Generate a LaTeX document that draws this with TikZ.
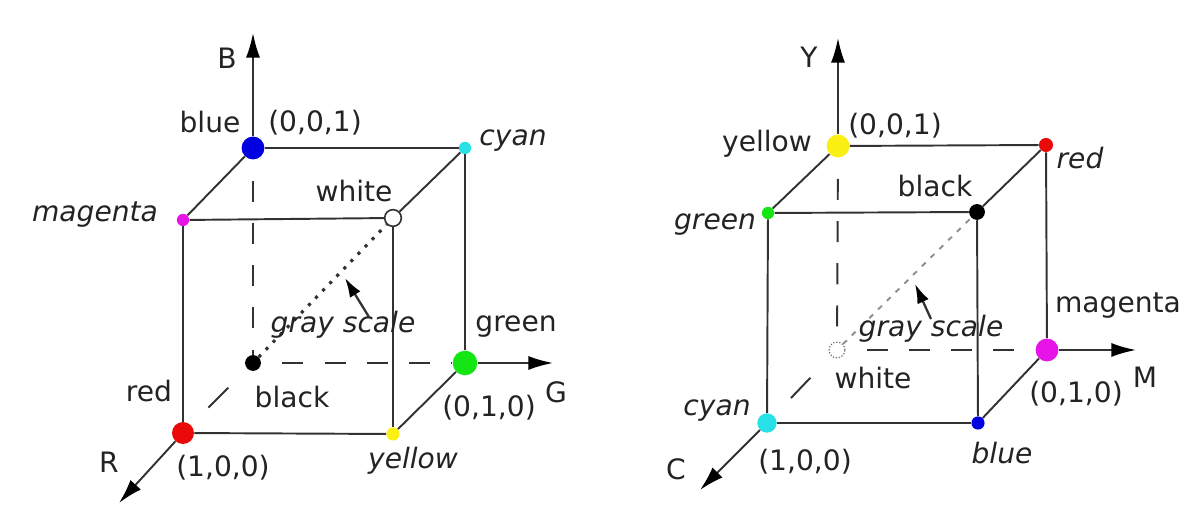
\documentclass[tikz,border=0pt]{standalone}
\usepackage{fontspec}
\setmainfont{DejaVu Sans}
\usepackage{xcolor}
\usetikzlibrary{
  arrows.meta,
  positioning,
  calc
}
\definecolor{edgegray}{RGB}{50,50,50}
\definecolor{txtgray}{RGB}{35,35,35}
\definecolor{cRed}{RGB}{235,10,10}
\definecolor{cGreen}{RGB}{20,230,20}
\definecolor{cBlue}{RGB}{0,0,225}
\definecolor{cYellow}{RGB}{250,240,20}
\definecolor{cCyan}{RGB}{40,225,230}
\definecolor{cMagenta}{RGB}{230,20,230}

\begin{document}
\begin{tikzpicture}[
  x=0.02cm, y=0.02cm,
  dot/.style={circle,inner sep=0pt,minimum size=#1},
  edge/.style={draw=edgegray,line width=1.1pt},
  hidden/.style={edge,dash pattern=on 12pt off 12pt,dash phase=12pt},
  stub/.style={edge,dash pattern=on 0pt off 14pt on 16pt off 60pt},
  grayline/.style={edgegray,line width=1.8pt,dash pattern=on 1.8pt off 4pt},
  axis/.style={edge,-{Latex[length=14pt,width=8pt,color=black]}},
  pointer/.style={edge,line width=1.3pt,-{Latex[length=11pt,width=7pt,color=black]}},
  lbl/.style={font=\fontsize{16}{18}\selectfont,text=txtgray,inner sep=0pt},
  ilbl/.style={lbl,font=\fontsize{16}{18}\selectfont\itshape},
]
\useasboundingbox (0,0) rectangle (1194,520);

% RGB cube
\node[dot=12.5pt,fill=cRed]     (redL)     at (183,87)  {};
\node[dot=7.5pt,fill=cYellow]   (yellowL)  at (393,86)  {};
\node[dot=7pt,fill=cMagenta]    (magentaL) at (183,300) {};
\node[dot=9.5pt,draw=edgegray,fill=white,line width=0.9pt] (whiteL) at (393,302) {};
\node[dot=9pt,fill=black]       (blackL)   at (253,157) {};
\node[dot=14pt,fill=cGreen]     (greenL)   at (465,157) {};
\node[dot=13pt,fill=cBlue]      (blueL)    at (253,372) {};
\node[dot=7pt,fill=cCyan]       (cyanL)    at (465,372) {};
\coordinate (Btip) at (253,487);
\coordinate (Gtip) at (553,157);
\coordinate (Rtip) at (119,17);

\draw[edge] (blueL) -- (cyanL);
\draw[edge] (blueL) -- (magentaL);
\draw[edge] (cyanL) -- (whiteL);
\draw[edge] (magentaL) -- (whiteL);
\draw[edge] (magentaL) -- (redL);
\draw[edge] (whiteL) -- (yellowL);
\draw[edge] (redL) -- (yellowL);
\draw[edge] (yellowL) -- (greenL);
\draw[edge] (cyanL) -- (greenL);
\draw[hidden] (blueL) -- (blackL);
\draw[hidden] (blackL) -- (greenL);
\draw[stub] (redL) -- (blackL);
\draw[grayline] (blackL) -- (whiteL);
\draw[axis] (blueL) -- (Btip);
\draw[axis] (greenL) -- (Gtip);
\draw[axis] (redL) -- (Rtip);

\node[lbl]  (tB)       at (227,462) {B};
\node[lbl]  (tBlueL)   at (210,398) {blue};
\node[lbl]  (tOrigB)   at (315,397) {(0,0,1)};
\node[ilbl] (tCyanL)   at (513,379) {cyan};
\node[lbl]  (tWhiteL)  at (354,329) {white};
\node[ilbl] (tMagL)    at (95,305)  {magenta};
\node[ilbl] (tGrayL)   at (343,195) {gray scale};
\node[lbl]  (tGreenL)  at (516,193) {green};
\node[lbl]  (tRedL)    at (149,129) {red};
\node[lbl]  (tBlackL)  at (292,123) {black};
\node[lbl]  (tOrigG)   at (489,112) {(0,1,0)};
\node[lbl]  (tG)       at (556,128) {G};
\node[lbl]  (tR)       at (109,58)  {R};
\node[lbl]  (tOrigR)   at (223,52)  {(1,0,0)};
\node[ilbl] (tYellowL) at (413,59)  {yellow};
\coordinate (gsTipL) at (345,242);
\draw[pointer] ($(tGrayL.north)+(26,-6)$) -- (gsTipL);

% CMY cube
\node[dot=11pt,fill=cCyan]      (cyanR)    at (767,97)  {};
\node[dot=7.5pt,fill=cBlue]     (blueR)    at (978,97)  {};
\node[dot=7pt,fill=cGreen]      (greenR)   at (768,307) {};
\node[dot=9pt,fill=black]       (blackR)   at (977,308) {};
\node[dot=9pt,draw=edgegray!70,densely dotted,line width=0.7pt] (whiteR) at (837,170) {};
\node[dot=13pt,fill=cMagenta]   (magentaR) at (1047,170) {};
\node[dot=13pt,fill=cYellow]    (yellowR)  at (838,374) {};
\node[dot=8pt,fill=cRed]        (redR)     at (1046,375) {};
\coordinate (Ytip) at (838,482);
\coordinate (Mtip) at (1136,170);
\coordinate (Ctip) at (700,30);

\draw[edge] (yellowR) -- (redR);
\draw[edge] (yellowR) -- (greenR);
\draw[edge] (redR) -- (blackR);
\draw[edge] (greenR) -- (blackR);
\draw[edge] (greenR) -- (cyanR);
\draw[edge] (blackR) -- (blueR);
\draw[edge] (cyanR) -- (blueR);
\draw[edge] (blueR) -- (magentaR);
\draw[edge] (redR) -- (magentaR);
\draw[hidden] (yellowR) -- (whiteR);
\draw[hidden] (whiteR) -- (magentaR);
\draw[stub] (cyanR) -- (whiteR);
\draw[grayline,edgegray!55,line width=1.1pt,dash pattern=on 3pt off 4pt] (whiteR) -- (blackR);
\draw[axis] (yellowR) -- (Ytip);
\draw[axis] (magentaR) -- (Mtip);
\draw[axis] (cyanR) -- (Ctip);

\node[lbl]  (tY)       at (809,463) {Y};
\node[lbl]  (tYellowR) at (767,376) {yellow};
\node[lbl]  (tOrigY)   at (895,394) {(0,0,1)};
\node[ilbl] (tRedR)    at (1080,362) {red};
\node[lbl]  (tBlackR)  at (935,334) {black};
\node[ilbl] (tGreenR)  at (715,295) {green};
\node[lbl]  (tMagR)    at (1118,214) {magenta};
\node[ilbl] (tGrayR)   at (931,191) {gray scale};
\node[lbl]  (tWhiteR)  at (873,142) {white};
\node[lbl]  (tM)       at (1145,143) {M};
\node[lbl]  (tOrigM)   at (1076,126) {(0,1,0)};
\node[ilbl] (tCyanR)   at (717,109) {cyan};
\node[ilbl] (tBlueR)   at (1002,67) {blue};
\node[lbl]  (tOrigC)   at (805,58)  {(1,0,0)};
\node[lbl]  (tC)       at (676,51)  {C};
\coordinate (gsTipR) at (915,236);
\draw[pointer] ($(tGrayR.north)+(0,-4)$) -- (gsTipR);
\end{tikzpicture}
\end{document}
